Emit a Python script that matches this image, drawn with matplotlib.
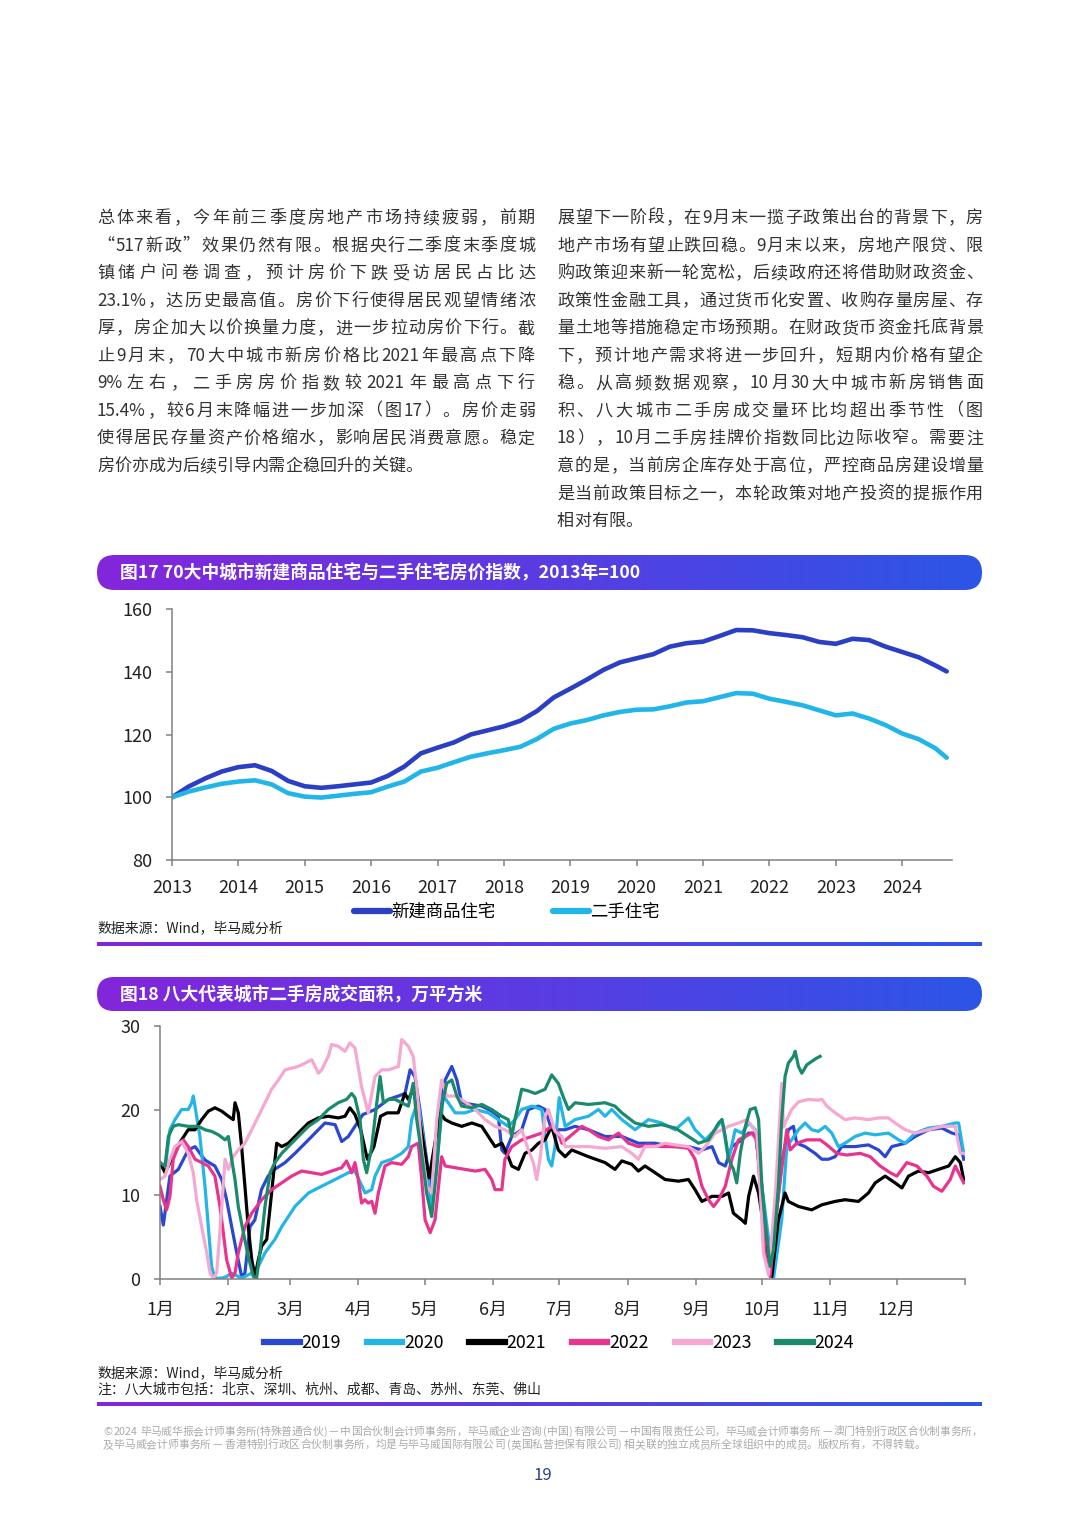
import re
import numpy as np
import matplotlib
matplotlib.use("Agg")
import matplotlib.pyplot as plt
from matplotlib.patches import FancyBboxPatch
from matplotlib.colors import LinearSegmentedColormap
from matplotlib.font_manager import FontProperties

# ---------------- data: figure 17 (quarterly readings) ----------------
years17 = [2013 + 0.25 * i for i in range(47)] + [2024.67]
new_home = [100, 103.4, 106.0, 108.2, 109.6, 110.2, 108.4, 105.2,
            103.5, 103.0, 103.5, 104.1, 104.7, 106.8, 109.8, 114.0,
            115.8, 117.5, 120.0, 121.3, 122.6, 124.4, 127.5, 131.8,
            134.6, 137.5, 140.6, 143.0, 144.3, 145.6, 148.0, 149.1,
            149.6, 151.4, 153.3, 153.2, 152.3, 151.7, 151.0, 149.5,
            148.9, 150.5, 150.1, 148.0, 146.3, 144.6, 142.0, 140.1]
second_home = [100, 101.8, 103.1, 104.3, 105.0, 105.4, 104.1, 101.3,
               100.2, 99.9, 100.5, 101.1, 101.6, 103.4, 105.0, 108.2,
               109.4, 111.2, 112.9, 114.0, 115.0, 116.1, 118.6, 121.8,
               123.5, 124.6, 126.1, 127.2, 127.9, 128.0, 129.0, 130.2,
               130.6, 131.9, 133.2, 133.0, 131.4, 130.4, 129.3, 127.7,
               126.1, 126.7, 125.1, 123.0, 120.3, 118.5, 115.6, 112.6]
labels17 = ["新建商品住宅", "二手住宅"]
xticks17 = list(range(2013, 2025))
yticks17 = [80, 100, 120, 140, 160]

# ---------------- data: figure 18 (day of year, 10k sqm) ----------------
s2019 = [(0,8.6),(1.5,6.4),(4.5,12.2),(8.3,13),(12.8,15.3),(15.9,15.7),(20.4,14.1),(24.9,13.4),(28,11.8),(30.2,9.4),(32.5,6.2),(34.8,3.1),(37,0.3),(38.5,0.7),(40.8,6.2),(43,7),(46,10.6),(49,12.2),(52,13),(56.7,13.8),(61.2,14.9),(67.3,16.5),(71.8,17.7),(74.8,18.5),(79.4,18.3),(82.4,16.3),(85.4,16.9),(88.4,18.1),(92,19.5),(97.5,20.1),(103.6,21.3),(108.1,21.7),(111.1,22),(113.4,24.8),(115.6,24),(117.9,20),(122.5,11),(127,20.9),(129.3,23.6),(132.3,25.2),(134.6,23.6),(136.8,20.9),(141.4,20.7),(145.9,20.5),(150.4,19.9),(153.4,19.3),(155,15.3),(156.4,14.9),(159.5,16.9),(164,17.7),(167,20.1),(171.6,20.5),(174.6,20.1),(177.6,17.7),(180.6,17.7),(183.7,17.7),(188.2,18.1),(194.3,17.7),(201.8,16.9),(209.4,16.9),(216.9,16.1),(224.5,16.1),(232.1,15.7),(239.6,15.7),(245.7,15.3),(250.3,15.7),(253.3,13.8),(256.3,13.4),(259.3,15.7),(263.8,16.5),(266.9,17.3),(269.9,17.3),(272.9,11),(276.6,0.7),(281.9,13.8),(284.9,17.7),(287.2,18.1),(288.7,16.1),(292.5,15.7),(297,14.9),(300.1,14.2),(303.1,14.2),(306.1,14.5),(309.1,15.7),(315.2,15.7),(321.2,15.9),(325.8,15.3),(328.8,14.5),(331.8,15.7),(337.9,16.1),(342.4,16.9),(348.5,17.7),(354.5,17.9),(359.1,17.3),(362.1,17.1),(364.4,14.2)]
s2020 = [(0,13.8),(2.3,13),(4.5,17.7),(6.8,18.9),(9.8,20.1),(12.8,20.1),(14.4,20.9),(15.1,21.7),(16.6,19.3),(18.1,16.9),(20.4,11),(21.9,6.2),(23.4,1.5),(24.9,0.1),(28,0.1),(30.2,0.3),(32.5,0.7),(37,0.1),(41.6,0.7),(44.6,1.5),(47.6,3.1),(52.1,4.7),(55.2,6.2),(61.2,8.6),(67.3,10.2),(73.3,11),(79.4,11.8),(85.4,12.6),(88.4,12.8),(93,10.2),(96,10.6),(97.5,12.2),(100.5,13.8),(105,14.2),(109.6,14.9),(112.6,15.7),(114.1,18.9),(115.6,20.1),(117.1,20.9),(120.2,15),(123.2,8.2),(126.2,15.7),(128.5,21.7),(130.7,20.9),(133.8,19.7),(138.3,19.7),(142.9,20.1),(148.9,19.7),(153.4,18.9),(157.9,18.1),(161,18.9),(164,20.1),(168.6,20.5),(173.1,20.1),(174.6,16.9),(176.1,14.2),(177.6,13.4),(179.1,15.7),(181,21.5),(183.7,18.1),(188.2,18.9),(194.3,19.3),(198.8,20.1),(201.8,19.3),(204.8,20.1),(209.4,18.9),(215.4,17.7),(221.5,18.9),(227.5,18.5),(233.6,17.7),(239.6,19.1),(242.6,17.7),(247.2,16.5),(251.7,17.7),(254.8,18.9),(257.8,14.2),(260.8,17.7),(263.8,17.3),(266.9,18.5),(269.9,17.7),(272.9,11),(278.2,0.1),(281.9,7),(284.2,15.7),(286.4,16.5),(289.5,17.7),(292.5,18.5),(295.5,17.7),(298.5,17.5),(301.6,18.1),(304.6,17.3),(307.6,15.7),(310.6,16.1),(315.2,16.9),(319.7,17.3),(324.3,17.1),(330.3,17.3),(334.9,16.5),(337.9,16.1),(342.4,17.3),(348.5,17.9),(354.5,18.1),(360.6,18.5),(362.1,18.5),(364.4,14.9)]
s2021 = [(0,13.8),(2.3,12.6),(4.5,13.8),(6.8,15.3),(9.8,16.5),(12.8,17.7),(15.9,17.7),(18.9,18.9),(21.9,19.9),(24.9,20.3),(28,19.9),(31,19.3),(33.2,18.9),(34,20.9),(35.5,19.7),(37,15.7),(38.5,11),(40,6.2),(41.6,2.3),(43.1,0.3),(44.6,2.3),(46.1,3.9),(48.4,4.7),(50.6,10.2),(52.9,16.1),(55.2,15.7),(58.2,16.1),(61.2,16.9),(64.2,17.7),(67.3,18.5),(71.8,19.1),(76.3,19.3),(80.8,19.1),(83.9,19.3),(86.1,20.3),(88.4,19.5),(91,17.7),(94,14.2),(95.5,14.9),(97,15.7),(100,19.3),(103,19.7),(108,19.7),(111,22),(112.6,21.3),(114.8,22.5),(117,20),(122,12),(127,19.7),(129.3,18.9),(132.3,18.5),(136.8,18.1),(141.4,18.5),(145.9,18.1),(148.9,16.9),(151.9,15.7),(155,16.1),(157.9,14.5),(159.5,13.4),(162.5,13),(165.5,14.9),(168.6,15.3),(171.6,16.1),(174.6,16.5),(177.6,18.1),(180.6,15.3),(183.7,14.5),(186.7,15.3),(194.3,14.5),(201.8,13.8),(206.3,13),(209.4,14),(213.9,13.6),(216.9,12.8),(219.9,13.4),(224.5,12.6),(229,11.8),(235.1,11.6),(239.6,11.8),(242.6,10.6),(245.7,9.2),(250.3,9.8),(254.8,9.8),(257.8,10.2),(260,7.8),(263.8,7),(265.4,6.6),(266.9,9.8),(269.1,12.2),(271.4,10.2),(274.4,5.1),(277.4,0.3),(280.4,7),(283.4,10.2),(284.9,9.2),(289.5,8.6),(295.5,8.2),(300.1,8.8),(306.1,9.2),(310.6,9.4),(316.7,9.2),(321.2,10.2),(324.3,11.4),(328.8,12.2),(333.3,11.4),(336.4,10.8),(339.4,12.2),(343.9,12.8),(348.5,12.6),(353,13),(357.6,13.4),(360.6,14.5),(362.9,13.8),(364.4,11.8)]
s2022 = [(0,11),(1.5,9.4),(3,8.2),(4.5,9.8),(6,14.2),(8.3,15.7),(10.6,16.5),(12.8,15.7),(15.9,14.2),(18.9,13.8),(21.9,13.4),(24.9,12.2),(27.2,8.6),(28.7,5.5),(30.2,2.3),(32.5,0.1),(34,0.7),(35.5,3.1),(38.5,6.2),(41.6,7.8),(46.1,9.4),(50.6,10.6),(55.2,11.4),(59.7,12.2),(64.2,12.8),(68.8,12.6),(73.3,12.4),(77.8,12.8),(82.4,13.2),(84.6,14),(86.9,12.6),(88.4,13.8),(89.9,11.8),(91.4,9),(92.9,9.4),(94.4,9),(96,9.2),(97.5,7.8),(99,10.2),(102,13.4),(105,13.8),(109.6,13.6),(112.6,14.5),(114.1,15.7),(117.1,16.1),(118.6,12),(120.2,7),(122.5,5.5),(124.7,7),(127.7,14.5),(129.3,13.4),(133.8,13.2),(138.3,13),(142.9,12.8),(147.4,13),(150.4,11.8),(151.9,10.6),(155,10.6),(156.4,14.2),(159.5,15.7),(164,16.5),(168.6,16.9),(173.1,17.3),(177.6,18.1),(180.6,17.3),(182.2,16.1),(186.7,17.1),(191.3,18.1),(194.3,17.7),(198.8,16.9),(203.3,16.5),(207.9,17.3),(212.4,16.1),(216.9,15.7),(221.5,15.9),(227.5,15.7),(233.6,15.7),(239.6,15.5),(242.6,14.2),(245.7,11),(248.7,9.4),(251,8.6),(253.3,9.4),(256.3,11),(259.3,14.2),(262.3,16.5),(265.4,16.9),(268.4,17.3),(270.6,16.5),(272.1,11),(274.4,3.1),(276.6,0.3),(280.4,10),(284.2,17.7),(285.7,15.3),(288.7,16.1),(293.3,16.5),(299.3,16.5),(302.4,15.9),(306.9,14.9),(311.4,14.7),(317.5,14.9),(322,14.5),(326.5,13.4),(331.1,12.6),(334.1,12.2),(338.6,13.8),(343.2,13.4),(347.7,12.2),(350.7,11),(354.5,10.4),(358.3,11.8),(360.6,13.4),(362.1,12.6),(364.4,11.4)]
s2023 = [(0,11.8),(2.3,12.2),(4.5,14.2),(6.8,15.7),(9.8,16.3),(12.8,14.9),(15.1,12.6),(16.6,9.4),(18.9,6.2),(21.2,3.1),(22.7,0.7),(24.2,0.1),(25.7,0.7),(28,8.6),(29.5,14.2),(31,13),(33.2,14.5),(35.5,15.3),(38.5,16.1),(41.6,17.7),(44.6,19.3),(47.6,20.9),(50.6,22.5),(53.7,23.6),(56.7,24.8),(59.7,25),(62.7,25.2),(65.8,25.6),(68.8,26),(71.8,24.4),(73.3,24.8),(76.3,26.4),(77.8,27.8),(80.8,27.6),(83.9,27),(86.1,28),(88.4,27.4),(91.4,22.8),(94.4,19.7),(97.5,24),(100.5,24.8),(103.6,24.8),(108.1,25.2),(109.6,28.4),(112.6,27.6),(114.8,26.4),(116.4,22.8),(118.6,15.7),(120.9,11),(123.2,10.2),(125.5,18.9),(127.7,23.6),(130,21.7),(133.8,21.7),(138.3,21),(142.9,20.1),(147.4,18.9),(151.9,18.1),(156.4,17.7),(161,16.9),(164,17.7),(167,15.3),(169.3,13.8),(170.8,11.8),(172.3,14.2),(174.6,19.3),(176.1,20.1),(179.1,17.5),(182.2,16.9),(183.7,15.7),(188.2,15.7),(194.3,15.7),(201.8,15.5),(209.4,15.7),(213.9,14.9),(216.9,14.2),(219.9,15.7),(224.5,15.7),(229,16.1),(233.6,15.9),(239.6,15.7),(244.2,14.9),(247.2,15.7),(251.7,17.3),(257.8,18.1),(262.3,18.5),(266.1,18.9),(268.4,18.1),(270.6,17.3),(272.1,11),(273.6,3.1),(275.9,0.5),(279,10),(281.9,23.2),(282.7,18),(284.2,18.9),(286.4,20.1),(289.5,21),(294,21.3),(298.5,21.2),(300.1,21.3),(302.4,20.5),(306.1,19.7),(310.6,18.9),(315.2,19.1),(321.2,18.9),(325.8,19.1),(330.3,19.1),(333.3,18.5),(337.9,17.7),(342.4,17.3),(348.5,17.7),(354.5,18.1),(360.6,18.1),(362.9,14.9),(364.4,14.9)]
s2024 = [(0,13.8),(2.3,13.4),(3.8,16.9),(6,18.1),(8.3,18.3),(12.8,18.1),(17.4,18.1),(20.4,17.7),(23.4,17.5),(26.5,17.1),(29.5,16.5),(31,16.9),(32.5,14.2),(34,11.8),(35.5,8.6),(37.8,5.5),(40,2.7),(42.3,0.3),(43.8,0.1),(45.3,3.1),(47.6,8.6),(49.9,12.6),(52.1,13.8),(55.2,14.9),(58.2,15.7),(62.7,16.9),(67.3,18.1),(71.8,18.9),(76.3,20.1),(80.8,20.9),(84.6,21.3),(86.9,22),(88.4,21.5),(90.7,18.9),(92.2,14.2),(93.7,12.6),(96,15.7),(98.3,20.9),(99.8,24),(101.3,20.9),(103.6,21.3),(106.6,21.3),(109.6,20.9),(112.6,20.5),(114.8,23.2),(116.4,18.9),(118.6,14.9),(120.9,10.2),(123.2,7.4),(125.5,13),(127.7,20.5),(130,23.2),(132.3,23.6),(134.6,21.7),(136.8,20.5),(141.4,20.3),(145.9,20.7),(150.4,20.1),(154.9,19.3),(157.9,18.9),(159.5,16.9),(161,19),(164,22.5),(167,22.3),(170.1,22),(174.6,22.5),(177.6,24.2),(180.6,23.2),(183,21.5),(185.2,20.1),(188.2,20.9),(194.3,20.7),(201.8,20.9),(206.3,20.5),(209.4,19.7),(215.4,18.5),(221.5,18.1),(227.5,18.3),(233.6,17.9),(239.6,16.9),(244.2,16.1),(248.7,16.5),(253.3,18.5),(254.8,18.9),(256.3,16.9),(257.8,14.2),(260,13),(261.5,11.4),(263.1,14.9),(265.4,18.1),(267.6,20.1),(269.9,20.3),(271.4,18.9),(272.9,11),(274.3,7),(276.6,1.5),(278.2,3.5),(280.4,11),(281.9,18.9),(283.4,24),(284.9,25.6),(287.2,26.4),(288,27),(289.5,25.2),(291,24.4),(293.3,25.4),(295.5,25.8),(297.8,26.2),(299.3,26.4)]
series18 = {"2019": s2019, "2020": s2020, "2021": s2021,
            "2022": s2022, "2023": s2023, "2024": s2024}
colors18 = {"2019": "#2A48CF", "2020": "#22B5E6", "2021": "#000000",
            "2022": "#E8348E", "2023": "#F4A8D2", "2024": "#1B8A6C"}
month_days = [0, 31, 59, 90, 120, 151, 181, 212, 243, 273, 304, 334, 365]
month_labels = ["1月", "2月", "3月", "4月", "5月", "6月", "7月", "8月",
                "9月", "10月", "11月", "12月", ""]
yticks18 = [0, 10, 20, 30]

# ---------------- texts ----------------
left_lines = [
    "总体来看，今年前三季度房地产市场持续疲弱，前期",
    "“517新政”效果仍然有限。根据央行二季度末季度城",
    "镇储户问卷调查，预计房价下跌受访居民占比达",
    "23.1%，达历史最高值。房价下行使得居民观望情绪浓",
    "厚，房企加大以价换量力度，进一步拉动房价下行。截",
    "止9月末，70大中城市新房价格比2021年最高点下降",
    "9%左右，二手房房价指数较2021年最高点下行",
    "15.4%，较6月末降幅进一步加深（图17）。房价走弱",
    "使得居民存量资产价格缩水，影响居民消费意愿。稳定",
    "房价亦成为后续引导内需企稳回升的关键。",
]
right_lines = [
    "展望下一阶段，在9月末一揽子政策出台的背景下，房",
    "地产市场有望止跌回稳。9月末以来，房地产限贷、限",
    "购政策迎来新一轮宽松，后续政府还将借助财政资金、",
    "政策性金融工具，通过货币化安置、收购存量房屋、存",
    "量土地等措施稳定市场预期。在财政货币资金托底背景",
    "下，预计地产需求将进一步回升，短期内价格有望企",
    "稳。从高频数据观察，10月30大中城市新房销售面",
    "积、八大城市二手房成交量环比均超出季节性（图",
    "18），10月二手房挂牌价指数同比边际收窄。需要注",
    "意的是，当前房企库存处于高位，严控商品房建设增量",
    "是当前政策目标之一，本轮政策对地产投资的提振作用",
    "相对有限。",
]
title17 = "图17 70大中城市新建商品住宅与二手住宅房价指数，2013年=100"
title18 = "图18 八大代表城市二手房成交面积，万平方米"
source_txt = "数据来源：Wind，毕马威分析"
note_txt = "注：八大城市包括：北京、深圳、杭州、成都、青岛、苏州、东莞、佛山"
footer1 = "© 2024 毕马威华振会计师事务所(特殊普通合伙) — 中国合伙制会计师事务所，毕马威企业咨询 (中国) 有限公司 — 中国有限责任公司，毕马威会计师事务所 — 澳门特别行政区合伙制事务所，"
footer2 = "及毕马威会计师事务所 — 香港特别行政区合伙制事务所，均是与毕马威国际有限公司 (英国私营担保有限公司) 相关联的独立成员所全球组织中的成员。版权所有，不得转载。"
page_no = "19"

# ---------------- page setup ----------------
FW, FH = 1080, 1515
plt.rcParams['font.family'] = ['Noto Sans CJK SC', 'DejaVu Sans']
fig = plt.figure(figsize=(FW / 100, FH / 100), dpi=100)
fig.patch.set_facecolor('white')
R = fig.canvas.get_renderer()

def fx(x):
    return x / FW

def fy(y):
    return 1 - y / FH

CJK = ['Noto Sans CJK SC', 'DejaVu Sans']

_cache = {}
def wid(s, prop):
    key = (s, prop.get_size_in_points(), str(prop.get_weight()))
    if key not in _cache:
        _cache[key] = R.get_text_width_height_descent(s, prop, ismath=False)[0]
    return _cache[key]

def metrics(tok, prop):
    ref = '中'
    adv = wid(ref + tok + ref, prop) - wid(ref + ref, prop)
    lb = adv + wid(ref, prop) - wid(tok + ref, prop)
    return adv, lb

def tokenize(s):
    return re.findall(r'[A-Za-z0-9.%=]+|.', s)

def text_line(s, x0, x1, base_y, prop, color, justify):
    toks = tokenize(s)
    ms = [metrics(t, prop) for t in toks]
    total = sum(m[0] for m in ms)
    gap = (x1 - x0 - total) / (len(toks) - 1) if (justify and len(toks) > 1) else 0
    x = x0
    for t, (adv, lb) in zip(toks, ms):
        if t.strip():
            fig.text(fx(x + lb), fy(base_y), t, fontproperties=prop, color=color,
                     ha='left', va='baseline')
        x += adv + gap

# body paragraphs
body = FontProperties(family=CJK, size=12.3)
for i, ln in enumerate(left_lines):
    text_line(ln, 97, 535, 223 + 27.55 * i, body, '#333333', i < len(left_lines) - 1)
for i, ln in enumerate(right_lines):
    text_line(ln, 557, 983, 223 + 27.55 * i, body, '#333333', i < len(right_lines) - 1)

# gradient helpers
grad_cmap = LinearSegmentedColormap.from_list('g', ['#8326DA', '#5A3CE2', '#2C55E6'])

def grad_bar(x0, y0, x1, y1, rounded=True):
    ax = fig.add_axes([fx(x0), fy(y1), (x1 - x0) / FW, (y1 - y0) / FH])
    ax.set_axis_off()
    w, h = x1 - x0, y1 - y0
    ax.set_xlim(0, w)
    ax.set_ylim(0, h)
    g = np.linspace(0, 1, 256)[None, :]
    im = ax.imshow(g, cmap=grad_cmap, extent=[0, w, 0, h], aspect='auto',
                   interpolation='bilinear')
    if rounded:
        p = FancyBboxPatch((0, 0), w, h, boxstyle=f'round,pad=0,rounding_size={h / 2}',
                           facecolor='none', edgecolor='none', transform=ax.transData)
        ax.add_patch(p)
        im.set_clip_path(p)
    return ax

# title bars
grad_bar(97, 555, 982, 590)
fig.text(fx(120), fy(573), title17, color='white', fontsize=12.8, fontweight='bold',
         va='center', ha='left', family=CJK)
grad_bar(97, 977, 982, 1011)
fig.text(fx(120), fy(995), title18, color='white', fontsize=12.8, fontweight='bold',
         va='center', ha='left', family=CJK)

# ---------------- chart 17 ----------------
ax1 = fig.add_axes([fx(172), fy(860), (952 - 172) / FW, (860 - 609) / FH])
ax1.plot(years17, new_home, color='#2B3FC4', lw=3.3, label=labels17[0],
         solid_joinstyle='round', solid_capstyle='round')
ax1.plot(years17, second_home, color='#22B6E8', lw=3.3, label=labels17[1],
         solid_joinstyle='round', solid_capstyle='round')
ax1.set_xlim(2013, 2024.75)
ax1.set_ylim(80, 160)
ax1.set_xticks(xticks17)
ax1.set_yticks(yticks17)
for sp in ['top', 'right']:
    ax1.spines[sp].set_visible(False)
for sp in ['left', 'bottom']:
    ax1.spines[sp].set_color('#808080')
    ax1.spines[sp].set_linewidth(1.1)
ax1.tick_params(axis='both', length=4, width=1.1, color='#808080', pad=10,
                labelsize=13, labelcolor='#222222')
leg1 = ax1.legend(loc='center', bbox_to_anchor=(fx(507), fy(912)),
                  bbox_transform=fig.transFigure, ncol=2, frameon=False,
                  prop=FontProperties(family=CJK, size=12.5), handlelength=2.05,
                  handletextpad=0.1, columnspacing=3.3, borderpad=0, borderaxespad=0)
for h in leg1.legend_handles:
    h.set_linewidth(4.5)
fig.text(fx(97), fy(928), source_txt, fontsize=10, color='#222222', va='center',
         ha='left', family=CJK)
grad_bar(97, 942, 982, 946, rounded=False)

# ---------------- chart 18 ----------------
ax2 = fig.add_axes([fx(160), fy(1279), (965 - 160) / FW, (1279 - 1026) / FH])
for name, pts in series18.items():
    d = [p[0] for p in pts]
    v = [p[1] for p in pts]
    ax2.plot(d, v, color=colors18[name], lw=2.3, label=name,
             solid_joinstyle='round')
ax2.set_xlim(0, 365)
ax2.set_ylim(0, 30)
ax2.set_xticks(month_days)
ax2.set_xticklabels(month_labels)
ax2.set_yticks(yticks18)
for sp in ['top', 'right']:
    ax2.spines[sp].set_visible(False)
for sp in ['left', 'bottom']:
    ax2.spines[sp].set_color('#808080')
    ax2.spines[sp].set_linewidth(1.1)
ax2.tick_params(axis='both', length=4, width=1.1, color='#808080',
                labelcolor='#222222')
ax2.tick_params(axis='x', pad=12, labelsize=13)
ax2.tick_params(axis='y', pad=10, labelsize=13)
leg2 = ax2.legend(loc='center', bbox_to_anchor=(fx(559), fy(1343)),
                  bbox_transform=fig.transFigure, ncol=6, frameon=False,
                  prop=FontProperties(family=CJK, size=12.8), handlelength=2.0,
                  handletextpad=0.1, columnspacing=1.45, borderpad=0, borderaxespad=0)
for h in leg2.legend_handles:
    h.set_linewidth(4.5)
fig.text(fx(97), fy(1373), source_txt, fontsize=10, color='#222222', va='center',
         ha='left', family=CJK)
fig.text(fx(97), fy(1390), note_txt, fontsize=10, color='#222222', va='center',
         ha='left', family=CJK)
grad_bar(97, 1402, 982, 1406, rounded=False)

# ---------------- footer ----------------
probe = FontProperties(family=CJK, size=10)
nat = sum(metrics(t, probe)[0] for t in tokenize(footer2))
fsize = 10 * 822 / nat
fprop = FontProperties(family=CJK, size=fsize)
text_line(footer1, 103, 982, 1435, fprop, '#aaaaaa', True)
text_line(footer2, 103, 982, 1448, fprop, '#aaaaaa', False)
fig.text(fx(543), fy(1475), page_no, fontsize=12, color='#2B3F8F', va='center',
         ha='center', family=CJK)

fig.savefig('out.png', dpi=100, facecolor='white')
